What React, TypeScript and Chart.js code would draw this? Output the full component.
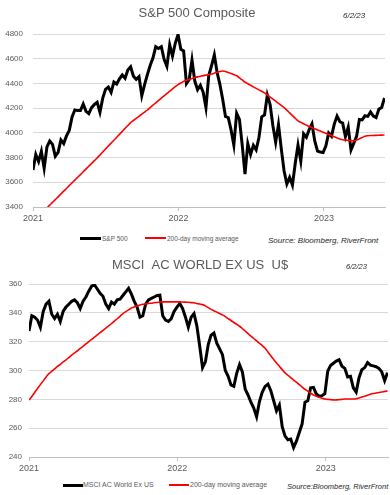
import React, { useEffect, useRef } from "react";
import { Chart, registerables } from "chart.js";

Chart.register(...registerables);

// ---- data (weekly Friday readings, first week = 1 Jan 2021) ----
const START_YEAR = 2021;
const DAYS_PER_STEP = 7;
const X_TICKS = [2021, 2022, 2023];
const X_MAX = 2023.42;

const spxClose = [
  3700, 3825, 3768, 3851, 3714, 3887, 3934, 3907, 3811, 3842,
  3943, 3913, 3975, 4020, 4129, 4185, 4180, 4181, 4233, 4174,
  4156, 4204, 4230, 4247, 4166, 4281, 4352, 4370, 4327, 4412,
  4395, 4437, 4468, 4442, 4509, 4535, 4459, 4433, 4455, 4300,
  4391, 4471, 4545, 4605, 4697, 4683, 4698, 4595, 4538, 4712,
  4621, 4725, 4796, 4677, 4663, 4398, 4432, 4589, 4419, 4349,
  4385, 4329, 4204, 4463, 4543, 4631, 4488, 4392, 4272, 4132,
  4123, 4024, 3901, 4158, 4109, 3901, 3667, 3912, 3825, 3899,
  3863, 3962, 4130, 4145, 4305, 4228, 4058, 3924, 4067, 3873,
  3693, 3586, 3640, 3577, 3752, 3901, 3771, 3993, 3965, 4026,
  4072, 3934, 3852, 3845, 3840, 3895, 3999, 3973, 4071, 4136,
  4090, 4079, 3970, 4046, 3862, 3917, 3971, 4109, 4105, 4138,
  4133, 4169, 4136, 4124, 4192, 4205, 4282,
];

const spxMA200 = [
  3280, 3302, 3325, 3347, 3370, 3392, 3415, 3437, 3460, 3482,
  3505, 3528, 3550, 3573, 3595, 3618, 3640, 3662, 3685, 3707,
  3730, 3752, 3775, 3797, 3821, 3845, 3869, 3893, 3917, 3940,
  3964, 3988, 4012, 4036, 4059, 4083, 4100, 4117, 4134, 4151,
  4168, 4185, 4205, 4224, 4243, 4262, 4281, 4300, 4319, 4337,
  4356, 4374, 4390, 4404, 4416, 4425, 4432, 4440, 4447, 4453,
  4458, 4463, 4467, 4472, 4477, 4483, 4490, 4497, 4500, 4496,
  4488, 4480, 4472, 4462, 4445, 4428, 4410, 4398, 4385, 4372,
  4360, 4348, 4337, 4324, 4307, 4290, 4273, 4256, 4239, 4222,
  4205, 4184, 4162, 4140, 4118, 4097, 4085, 4074, 4062, 4052,
  4043, 4034, 4024, 4015, 4005, 3996, 3987, 3977, 3968, 3959,
  3950, 3944, 3941, 3939, 3937, 3935, 3942, 3952, 3963, 3972,
  3976, 3978, 3979, 3980, 3981, 3982, 3983,
];

const msciClose = [
  327.4, 338, 337, 335, 330, 341, 346, 348, 339, 336,
  339, 334, 341, 344, 346, 348, 349, 347, 343, 348,
  351, 355, 358.5, 359.5, 356.5, 353.5, 351.5, 346, 343, 347.5,
  346, 349, 349.5, 352, 354.5, 357, 353, 348, 344, 337,
  338, 346, 349, 350, 351, 352, 352.3, 338, 335, 334,
  336, 341, 344, 346.5, 343, 337, 330, 337, 339.5, 331,
  317, 302, 306, 318, 324.5, 326, 319, 315, 311, 300,
  296, 290, 289, 298, 304, 299, 287, 283, 278, 274,
  268, 278.5, 285, 289, 290.6, 286, 279, 272, 276, 261,
  254.5, 252, 252.5, 246.5, 251, 257, 263, 278, 279, 288,
  288.3, 283.7, 282, 282.5, 284, 299.5, 303.5, 305, 306.5, 307.5,
  303, 301.5, 295.5, 296, 288, 285, 295, 300.5, 302, 305.5,
  303.7, 303.2, 302.6, 301.5, 299, 293, 298.5,
];

const msciMA200 = [
  279.5, 282, 284.8, 287.5, 290.2, 292.8, 295.5, 297.8, 299.5, 301.1,
  302.8, 304.3, 305.9, 307.4, 309, 310.6, 312.2, 313.7, 315.3, 316.8,
  318.4, 320, 321.6, 323.1, 324.7, 326.3, 327.8, 329.4, 331, 332.6,
  334.3, 335.9, 337.6, 339.5, 340.8, 342, 343.4, 344.1, 344.8, 345.4,
  345.9, 346.2, 346.5, 346.7, 347, 347.2, 347.4, 347.6, 347.6, 347.6,
  347.6, 347.6, 347.6, 347.6, 347.5, 347.4, 347.3, 347.1, 347, 346.5,
  346.1, 345.7, 344.8, 343.6, 342.4, 341.5, 340.5, 339.5, 338.5, 337.4,
  336, 334.7, 333.3, 332, 330.7, 329.1, 327.4, 325.6, 323.9, 322.2,
  320.6, 318.9, 317.3, 315.4, 312.8, 310.2, 307.6, 305.2, 302.9, 300.6,
  298.4, 296.7, 295.1, 293.4, 291.9, 290.2, 288.5, 286.9, 285.6, 284.3,
  283, 282.1, 281.4, 280.8, 280.2, 280, 279.8, 279.6, 279.6, 279.8,
  280, 280.2, 280.2, 280.2, 280.2, 280.4, 281, 281.6, 282.2, 282.9,
  283.5, 284, 284.4, 284.8, 285.1, 285.5, 285.8,
];

const SPX_Y = { min: 3400, max: 4800, step: 200 };
const MSCI_Y = { min: 240, max: 360, step: 20 };

const FONT = "'Liberation Sans', Arial, sans-serif";
const GREY = "#595959";

function toPoints(vals: number[]) {
  return vals.map((v, i) => ({ x: START_YEAR + (i * DAYS_PER_STEP) / 365, y: v }));
}

type PanelProps = {
  top: number;
  close: number[];
  ma: number[];
  yRange: { min: number; max: number; step: number };
  yAxisWidth: number;
  yLabelPad: number;
  rightPad: number;
};

function Panel({ top, close, ma, yRange, yAxisWidth, yLabelPad, rightPad }: PanelProps) {
  const ref = useRef<HTMLCanvasElement | null>(null);
  useEffect(() => {
    if (!ref.current) return;
    const chart = new Chart(ref.current, {
      type: "line",
      data: {
        datasets: [
          {
            label: "close",
            data: toPoints(close),
            borderColor: "#000000",
            borderWidth: 3,
            pointRadius: 0,
            tension: 0,
            order: 1,
          },
          {
            label: "200-day moving average",
            data: toPoints(ma),
            borderColor: "#ff0000",
            borderWidth: 1.6,
            pointRadius: 0,
            tension: 0.3,
            order: 0,
          },
        ],
      },
      options: {
        responsive: false,
        animation: false,
        devicePixelRatio: 1,
        layout: { padding: { left: 0, right: rightPad, top: 34, bottom: 0 } },
        plugins: { legend: { display: false }, tooltip: { enabled: false }, title: { display: false } },
        scales: {
          x: {
            type: "linear",
            min: START_YEAR,
            max: X_MAX,
            afterBuildTicks: (axis: any) => {
              axis.ticks = X_TICKS.map((v) => ({ value: v }));
            },
            afterFit: (axis: any) => {
              axis.height = 18;
            },
            ticks: {
              includeBounds: false,
              autoSkip: false,
              maxRotation: 0,
              padding: 2,
              color: GREY,
              font: { family: FONT, size: 9 },
              callback: (v: any) => String(v),
            },
            grid: { display: true, drawOnChartArea: false, drawTicks: true, tickLength: 4, color: "#bfbfbf" },
            border: { display: true, color: "#bfbfbf", width: 1 },
          },
          y: {
            min: yRange.min,
            max: yRange.max,
            afterFit: (axis: any) => {
              axis.width = yAxisWidth;
            },
            ticks: {
              stepSize: yRange.step,
              padding: yLabelPad,
              color: GREY,
              font: { family: FONT, size: 8 },
              callback: (v: any) => String(v),
            },
            grid: { color: "#d9d9d9", lineWidth: 1, drawTicks: false },
            border: { display: false },
          },
        },
      },
    } as any);
    return () => chart.destroy();
  }, []);
  return (
    <canvas
      ref={ref}
      width={390}
      height={225}
      style={{ position: "absolute", left: 0, top, width: 390, height: 225 }}
    />
  );
}

function Text({ x, y, size, children, italic, color, center, w }: any) {
  const lh = Math.round(size * 1.4);
  return (
    <div
      style={{
        position: "absolute",
        left: x,
        top: y - lh / 2,
        width: w,
        height: lh,
        lineHeight: lh + "px",
        fontSize: size,
        fontFamily: FONT,
        fontStyle: italic ? "italic" : "normal",
        color: color || GREY,
        whiteSpace: "nowrap",
        textAlign: center ? "center" : "left",
        opacity: 0.995,
      }}
    >
      {children}
    </div>
  );
}

function LineSample({ x, y, w, h, color }: any) {
  return <div style={{ position: "absolute", left: x, top: y - h / 2, width: w, height: h, background: color }} />;
}

export default function App() {
  return (
    <div style={{ position: "absolute", left: 0, top: 0, width: 390, height: 495, background: "#fff", overflow: "hidden" }}>
      <Panel top={0} close={spxClose} ma={spxMA200} yRange={SPX_Y} yAxisWidth={33} yLabelPad={10} rightPad={5} />
      <Panel top={250} close={msciClose} ma={msciMA200} yRange={MSCI_Y} yAxisWidth={29} yLabelPad={7} rightPad={2} />

      <Text x={0} w={394} y={13} size={13} center>S&amp;P 500 Composite</Text>
      <Text x={343} y={15} size={8} italic color="#262626">6/2/23</Text>
      <LineSample x={80} y={238} w={21} h={3} color="#000" />
      <Text x={102} y={238} size={6.5}>S&amp;P 500</Text>
      <LineSample x={145} y={238} w={21} h={1.5} color="#ff0000" />
      <Text x={167} y={238} size={6.5}>200-day moving average</Text>
      <Text x={268} y={240} size={8} italic color="#262626">Source: Bloomberg, RiverFront</Text>

      <Text x={0} w={400} y={265} size={13} center>MSCI&nbsp;&nbsp;AC WORLD EX US&nbsp;&nbsp;U$</Text>
      <Text x={346} y={266} size={7.5} italic color="#262626">6/2/23</Text>
      <LineSample x={63} y={485} w={20} h={3} color="#000" />
      <Text x={83} y={485} size={7}>MSCI AC World Ex US</Text>
      <LineSample x={169} y={485} w={20} h={1.5} color="#ff0000" />
      <Text x={190} y={485} size={7}>200-day moving average</Text>
      <Text x={287} y={486} size={7.5} italic color="#262626">Source:Bloomberg, RiverFront</Text>
    </div>
  );
}
